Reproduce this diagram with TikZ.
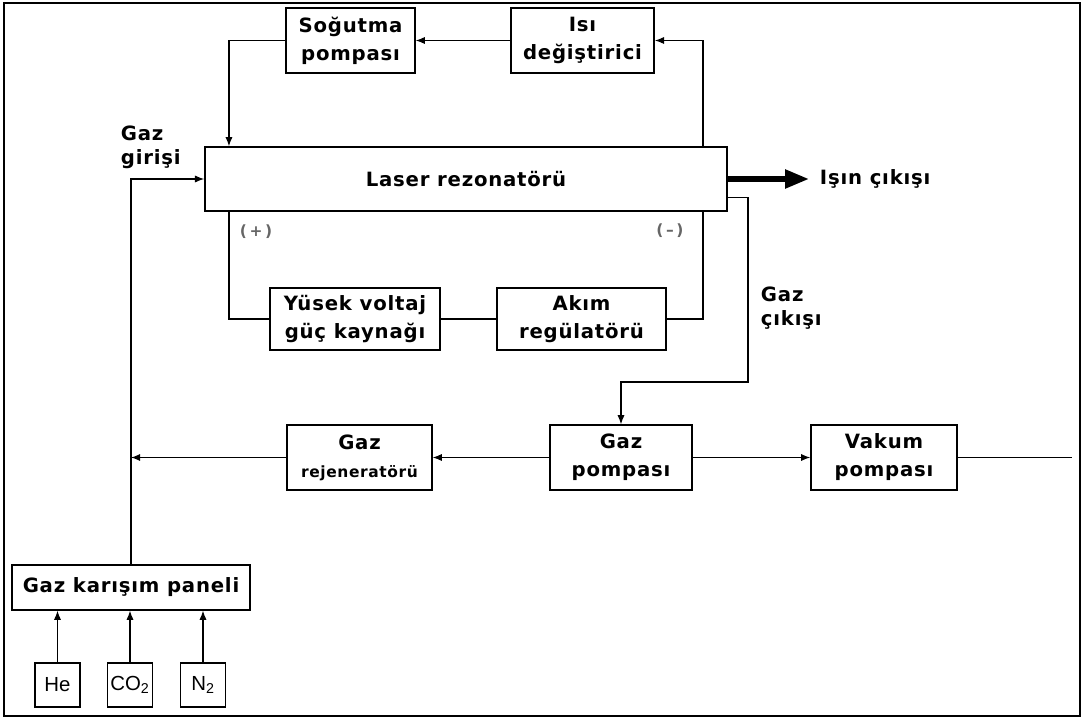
\documentclass[tikz,border=0pt]{standalone}
\usepackage{fontspec}
\setmainfont{DejaVu Sans}[LetterSpace=4]
\newfontfamily\gasfont{Liberation Sans}
\usetikzlibrary{arrows.meta,positioning,calc}

\begin{document}
\begin{tikzpicture}[x=0.025cm,y=-0.025cm,
 every node/.style={font=\fontsize{14}{20}\selectfont\bfseries},
 b/.style={draw,line width=1.1pt,minimum height=1.62cm,align=center,inner sep=2pt},
 g/.style={draw,line width=1.1pt,minimum width=1.12cm,minimum height=1.1cm,inner sep=1pt,font=\gasfont\fontsize{14.5}{15}\selectfont},
 lbl/.style={align=left,anchor=west,font=\fontsize{14}{17}\selectfont\bfseries},
 pm/.style={font=\fontsize{11}{12}\selectfont\bfseries,text=black!60},
 arr/.style={-{Latex[length=2.3mm,width=1.8mm]},line width=0.8pt},
 ln/.style={line width=0.8pt}]
\useasboundingbox (0,0) rectangle (1084,720);
\draw[line width=1.8pt] (4,3) rectangle (1080,716);
% cooling loop
\node[b,minimum width=3.22cm] (sog) at (350.5,40.5) {Soğutma\\pompası};
\node[b,minimum width=3.58cm] (isi) at (582.5,40.5) {Isı\\değiştirici};
\node[b,minimum width=13.05cm,minimum height=1.6cm] (las) at (466,179) {Laser rezonatörü};
% power supply
\node[b,minimum width=4.25cm,minimum height=1.55cm] (yus) at (355,319) {Yüsek voltaj\\güç kaynağı};
\node[b,minimum width=4.22cm,minimum height=1.55cm] (akim) at (581.5,319) {Akım\\regülatörü};
% gas circuit
\node[b,minimum width=3.62cm] (rej) at (359.5,457.5) {Gaz\\{\fontsize{11}{20}\selectfont rejeneratörü}};
\node[b,minimum width=3.55cm] (gp) at (621,457.5) {Gaz\\pompası};
\node[b,minimum width=3.65cm] (vak) at (884,457.5) {Vakum\\pompası};
\node[b,minimum width=5.95cm,minimum height=1.12cm] (pan) at (131,587.5) {Gaz karışım paneli};
\node[g] (he) at (57.5,685) {He};
\node[g] (co) at (130,685) {CO\textsubscript{2}};
\node[g] (n2) at (203,685) {N\textsubscript{2}};
% labels
\node[lbl] (gin) at (116,147) {Gaz\\girişi};
\node[lbl] (gout) at (756,308) {Gaz\\çıkışı};
\node[anchor=west] (beam) at (815,179) {Işın çıkışı};
\node[pm] (plus) at (256,232) {(\,+\,)};
\node[pm] (minus) at (670,231) {(\,–\,)};
\coordinate (gbend) at (748,382);
\coordinate (vend) at (1072,457.5);
% connectors
\draw[arr] (isi.west) -- (sog.east);
\draw[arr] ([xshift=-0.62cm]las.north east) |- (isi.east);
\draw[arr] (sog.west) -| ([xshift=0.62cm]las.north west);
\draw[arr] (pan.north) |- (las.west);
\draw[ln] ([xshift=0.62cm]las.south west) |- (yus.west);
\draw[ln] (yus.east) -- (akim.west);
\draw[ln] (akim.east) -| ([xshift=-0.62cm]las.south east);
\draw[arr] ([yshift=-0.47cm]las.east) -| (gbend) -| (gp.north);
\draw[arr] (gp.west) -- (rej.east);
\draw[arr] (rej.west) -- (rej.west -| pan.north);
\draw[arr] (gp.east) -- (vak.west);
\draw[ln] (vak.east) -- (vend);
\draw[arr] (he) -- (he.north |- pan.south);
\draw[arr] (co) -- (co.north |- pan.south);
\draw[arr] (n2) -- (n2.north |- pan.south);
\draw[-{Triangle[length=6mm,width=4.5mm]},line width=3.8pt] (las.east) -- ([xshift=-1.5mm]beam.west);
\end{tikzpicture}
\end{document}
